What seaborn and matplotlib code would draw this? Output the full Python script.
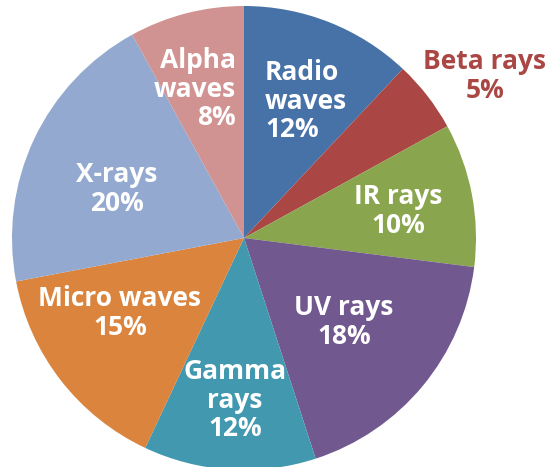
import matplotlib
matplotlib.use("Agg")
import matplotlib.pyplot as plt
import seaborn as sns

categories = ["Radio\nwaves", "Beta rays", "IR rays", "UV rays", "Gamma\nrays",
              "Micro waves", "X-rays", "Alpha\nwaves"]
values = [12, 5, 10, 18, 12, 15, 20, 8]
colors = ["#4672A8", "#AA4644", "#89A54E", "#71588F", "#4198AF",
          "#DB843D", "#93A9CF", "#D19392"]

sns.set_theme(style="white")
plt.rcParams["font.family"] = ["Open Sans", "DejaVu Sans"]

W, H = 547, 467
fig = plt.figure(figsize=(W / 100, H / 100), dpi=100)
ax = fig.add_axes([0, 0, 1, 1])
cx, cy, R = 244, 238, 232

ax.pie(values, colors=sns.color_palette(colors), startangle=90, counterclock=False,
       radius=1, center=(0, 0), wedgeprops=dict(linewidth=0), frame=False)
ax.set_xlim(-cx / R, (W - cx) / R)
ax.set_ylim((cy - H) / R, cy / R)
ax.set_aspect("auto")
ax.axis("off")

# label placement (pixel positions in reference), alignment
label_pos = [(265, 101, "left"), (485, 76, "center"), (398, 211, "center"),
             (344, 322, "center"), (235, 400, "center"), (120, 313, "center"),
             (117, 189, "center"), (236, 89, "right")]
for cat, v, (px, py, ha) in zip(categories, values, label_pos):
    col = "#AA4644" if cat == "Beta rays" else "white"
    ax.text((px - cx) / R, (cy - py) / R, f"{cat}\n{v}%", ha=ha, va="center",
            multialignment=ha, color=col, fontsize=19, fontweight="bold",
            linespacing=1.05)

fig.savefig("out.png", dpi=100)
